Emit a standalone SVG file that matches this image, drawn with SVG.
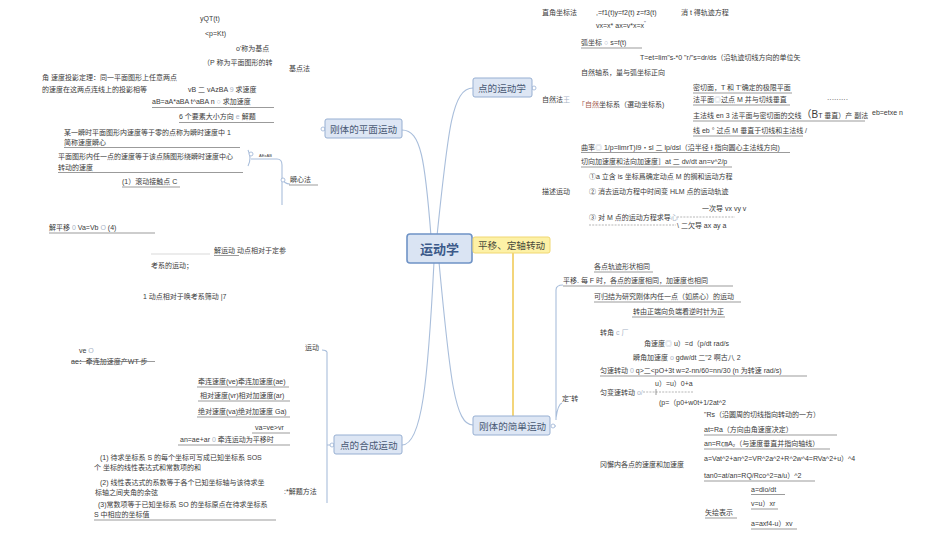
<svg xmlns="http://www.w3.org/2000/svg" width="950" height="539" viewBox="0 0 950 539">
<style>
text{font-family:"Liberation Sans","Noto Sans CJK SC",sans-serif;font-size:7px;fill:#3a3a3a}
.u{stroke:#707070;stroke-width:0.7;fill:none}
.lu{stroke:#c8c8c8;stroke-width:0.7;fill:none}
.c{fill:none;stroke:#a9bedb;stroke-width:1.1}
.dot{fill:#fff;stroke:#9cb3d4;stroke-width:0.8}
.dash{stroke:#888;stroke-width:0.6;stroke-dasharray:2 1.2;fill:none}
.lt{fill:#a9b4c6}
.node rect{fill:#dde6f4;stroke:#97afd2;stroke-width:1}
.node text{font-size:9.6px;fill:#4a5a74}
</style>
<rect width="950" height="539" fill="#fff"/>

<g id="connectors">
<path class="c" d="M437 236 C448 130 452 88 473 88"/>
<path class="c" d="M431 236 C425 160 421 130 402 130"/>
<path class="c" d="M439 262 C450 380 455 425 473 425"/>
<path class="c" d="M434 262 C428 380 422 445 402 445"/>
<path d="M513 253 V416" fill="none" stroke="#f3d57a" stroke-width="2"/>
<path class="c" d="M248 150 Q252 158 248 166"/>
<path class="c" d="M251 159 H277 Q282 159 282 165 V205"/>
<path class="c" d="M282 178 Q284 184 290 184"/>
<path class="c" d="M327 352 Q326 350 322 350 M327 352 V503 M327 445 H331"/>
<path class="c" d="M556 420 V290 Q556 285 563 285 M556 418 Q558 404 562 403 M553 426 H556"/>
<circle class="dot" cx="534" cy="88" r="2"/>
<circle class="dot" cx="323" cy="129" r="2"/>
<circle class="dot" cx="332" cy="445" r="2"/>
<circle class="dot" cx="553" cy="426" r="2"/>
<circle class="dot" cx="283" cy="180" r="2"/>
<circle class="dot" cx="251" cy="154" r="2"/>
</g>

<g id="n-center" class="node"><rect x="407" y="234" width="65" height="29" rx="3" style="stroke:#6f93c6;stroke-width:1.6;fill:#dae4f3"/><text x="420" y="254" style="font-size:13px;fill:#3c5a8a;font-weight:bold">运动学</text></g>
<g id="n-yellow" class="node"><rect x="473" y="237" width="77" height="16" rx="2" style="fill:#fdf1a6;stroke:#f0d772"/><text x="478" y="249" style="fill:#4a4a3a">平移、定轴转动</text></g>
<g id="n-point" class="node"><rect x="473" y="78" width="59" height="19" rx="2"/><text x="478" y="92">点的运动学</text></g>
<g id="n-plane" class="node"><rect x="325" y="119" width="77" height="19" rx="2"/><text x="330" y="133">刚体的平面运动</text></g>
<g id="n-comp" class="node"><rect x="334" y="435" width="68" height="19" rx="2"/><text x="340" y="449">点的合成运动</text></g>
<g id="n-simple" class="node"><rect x="473" y="416" width="77" height="19" rx="2"/><text x="479" y="430">刚体的简单运动</text></g>

<g id="b-jidian">
<text x="200" y="21">yQT(t)</text>
<text x="205" y="36">&lt;p=Kt)</text>
<text x="236" y="51">o'称为基点</text>
<text x="203" y="65">（P 称为平面图形的转</text>
<text x="289" y="71">基点法</text>
<text x="42" y="80">角  速度投影定理：同一平面图形上任意两点</text>
<text x="42" y="92">的速度在这两点连线上的投影相等</text>
<text x="188" y="92">vB 二 vAzBA <tspan class="lt">9</tspan> 求速度</text>
<text x="152" y="104">aB=aA*aBA t^aBA n <tspan class="lt">○</tspan> 求加速度</text>
<path class="u" d="M152 107.5 H274"/>
<text x="179" y="119">6 个要素大小方向 <tspan class="lt">e</tspan> 解题</text>
<path class="u" d="M179 122.5 H274"/>
</g>

<g id="b-shunxin">
<text x="64" y="135">某一瞬时平面图形内速度等于零的点称为瞬时速度中 1</text>
<text x="64" y="145">简称速度瞬心</text>
<path class="u" d="M64 147.5 H240"/>
<text x="58" y="159">平面图形内任一点的速度等于该点随图形绕瞬时速度中心</text>
<text x="58" y="170">转动的速度</text>
<path class="u" d="M58 172.5 H243"/>
<text x="122" y="184">(1）滚动接触点 C</text>
<path class="u" d="M122 187 H180"/>
<text x="259" y="157" style="font-size:4px">AE±AB</text>
<text x="290" y="182">瞬心法</text>
<path class="u" d="M289 185 H318"/>
</g>

<g id="b-left-mid">
<text x="49" y="230">解平移 <tspan class="lt">0</tspan> Va=Vb <tspan class="lt">O</tspan> (4)</text>
<path class="u" d="M49 233 H155"/>
<path class="lu" d="M151 254 H210"/>
<text x="214" y="253">解运动  动点相对于定参</text>
<path class="u" d="M214 255.5 H239"/>
<text x="151" y="268">考系的运动；</text>
<text x="143" y="299">1 动点相对于唤考系筛动 |7</text>
<text x="79" y="353">ve <tspan class="lt">O</tspan></text>
<text x="71" y="364">ae：牵连加速度产WT 步</text>
<path class="u" d="M71 361.5 H155"/>
<text x="305" y="350">运动</text>
</g>

<g id="b-comp">
<text x="198" y="384">牵连速度(ve)牵连加速度(ae)</text>
<path class="u" d="M197 387 H289"/>
<text x="200" y="398">相对速度(vr)相对加速度(ar)</text>
<path class="u" d="M198 401 H290"/>
<text x="198" y="414">绝对速度(va)绝对加速度 Ga)</text>
<path class="u" d="M197 417 H290"/>
<text x="255" y="430">va=ve&gt;vr</text>
<path class="u" d="M252 433 H290"/>
<text x="180" y="442">an=ae+ar <tspan class="lt">0</tspan> 牵连运动为平移时</text>
<path class="u" d="M178 445 H290"/>
<text x="100" y="460">(1)  待求坐标系 S 的每个坐标可写成已知坐标系 SOS</text>
<text x="94" y="470">个  坐标的线性表达式和常数项的和</text>
<text x="100" y="485">(2)  线性表达式的系数等于各个已知坐标轴与该待求坐</text>
<text x="95" y="495">标轴之间夹角的余弦</text>
<text x="284" y="494">:*解题方法</text>
<text x="98" y="507">(3)常数项等于已知坐标系 SO 的坐标原点在待求坐标系</text>
<text x="94" y="517">S 中相应的坐标值</text>
<path class="u" d="M94 520 H276"/>
</g>

<g id="b-point">
<text x="542" y="15">直角坐标法</text>
<text x="596" y="15">,=f1(t)y=f2(t) z=f3(t)</text>
<text x="681" y="15">消 t 得轨迹方程</text>
<text x="596" y="28">vx=x* ax=v*x=x<tspan dy="-3" style="font-size:4.5px">''</tspan></text>
<text x="581" y="45">弧坐标 <tspan class="lt">○</tspan> s=f(t)</text>
<path class="u" d="M581 48 H642"/>
<text x="640" y="60">T=et=lim"s-*0 "r/"s=dr/ds（沿轨迹切线方向的单位矢</text>
<text x="581" y="75">自然轴系，量与弧坐标正向</text>
<text x="542" y="102">自然法<tspan class="lt">王</tspan></text>
<text x="578" y="107"><tspan style="fill:#a3584e">「自然</tspan>坐标系（選动坐标系)</text>
<text x="693" y="90">密切面，T 和 T'确定的极限平面</text>
<path class="u" d="M693 93 H792"/>
<text x="693" y="102">法平面<tspan class="lt">◎</tspan>过点 M 并与切线垂直</text>
<path class="u" d="M693 105 H790"/>
<text x="827" y="102">·········</text>
<text x="693" y="118">主法线 en 3 法平面与密切面的交线<tspan style="font-size:10px">（B</tspan>T 垂直）产 副法</text>
<path class="u" d="M693 121 H865"/>
<text x="872" y="115">eb=etxe n</text>
<text x="693" y="133">线 eb ° 过点 M 垂直于切线和主法线 /</text>
<path class="u" d="M693 136 H803"/>
<text x="581" y="150">曲率<tspan class="lt">◎</tspan>  1/p=limrT)I9・sl 二 lp/dsl（沿半径 Ɨ 指向圆心主法线方向)</text>
<path class="u" d="M581 152.5 H790"/>
<text x="581" y="164">切向加速度和法向加速度］at 二 dv/dt an=v^2/p</text>
<path class="u" d="M581 167 H732"/>
<text x="589" y="179">①a 立含 is 坐标爲确定动点 M 的搁和运动方程</text>
<text x="542" y="194">描述运动</text>
<text x="589" y="194">② 消去运动方程中时间变 HLM 点的运动轨迹</text>
<text x="702" y="211">一次导 vx vy v</text>
<text x="589" y="220">③ 对 M 点的运动方程求导<tspan class="lt">心</tspan></text>
<path class="dash" d="M677 217 H735"/>
<path class="dash" d="M589 225 H676"/>
<text x="677" y="228">\  二欠导 ax ay a</text>
</g>

<g id="b-simple">
<text x="594" y="269">各点轨迹形状相同</text>
<path class="u" d="M594 272 H653"/>
<text x="563" y="283">平移. 每 F 时，各点的速度相同，加速度也相同</text>
<path class="u" d="M563 286 H733"/>
<text x="594" y="299">可归结为研究刚体内任一点（如质心）的运动</text>
<path class="u" d="M594 302 H741"/>
<text x="633" y="314">转由正端向负端看逆时针为正</text>
<path class="u" d="M632 317 H725"/>
<text x="600" y="335">转角 <tspan class="lt">c 厂</tspan></text>
<text x="644" y="346">角速度<tspan class="lt">◎</tspan> u）=d（p/dt rad/s</text>
<text x="633" y="360">瞬角加速度 <tspan class="lt">o</tspan> gdw/dt 二"2 啊古八 2</text>
<text x="600" y="373">匀速转动  <tspan class="lt">0</tspan> q&gt;二&lt;pO+3t w=2-nn/60=nn/30 (n 为转速 rad/s)</text>
<path class="u" d="M600 376 H807"/>
<text x="655" y="386">u）=u）0+a</text>
<text x="600" y="395">匀变速转动 <tspan class="lt">o/</tspan></text>
<path class="dash" d="M643 392 H694"/>
<path class="u" d="M656 389 V395"/>
<text x="659" y="405">(p=（p0+w0t+1/2at^2</text>
<text x="704" y="417">"Rs（沿圆周的切线指向转动的一方）</text>
<text x="704" y="432">at=Ra（方向由角速度决定）</text>
<path class="u" d="M704 435 H837"/>
<text x="704" y="446">an=R㎝A₂（与速度垂直并指向轴线）</text>
<path class="u" d="M704 449 H830"/>
<text x="704" y="461">a=Vat^2+an^2=VR^2a^2+R^2w^4=RVa^2+u）^4</text>
<text x="600" y="467">冈懈内各点的速度和加速度</text>
<text x="704" y="478">tan0=at/an=RQ/Rco^2=a/u）^2</text>
<path class="u" d="M704 481 H815"/>
<text x="751" y="492">a=dio/dt</text>
<path class="u" d="M751 494.5 H785"/>
<text x="751" y="506">v=u）xr</text>
<path class="u" d="M751 509 H778"/>
<text x="705" y="515">矢绘表示</text>
<path class="u" d="M705 518 H737"/>
<text x="751" y="526">a=axf4-u）xv</text>
<path class="u" d="M751 529 H797"/>
<text x="562" y="401">定ˇ转</text>
</g>
</svg>
